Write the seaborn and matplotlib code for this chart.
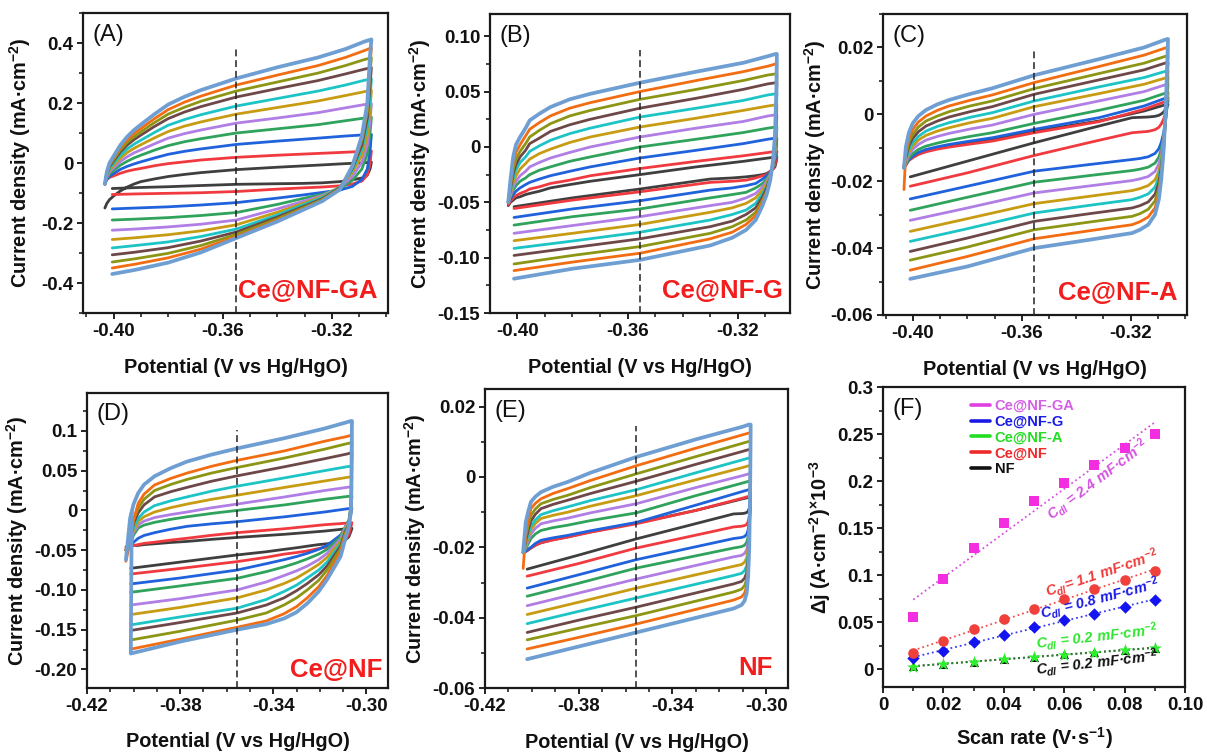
import numpy as np
import pandas as pd
import matplotlib
matplotlib.use("Agg")
import matplotlib.pyplot as plt
import seaborn as sns
from matplotlib.ticker import FixedLocator, FixedFormatter, MultipleLocator
from matplotlib.lines import Line2D

nan = np.nan

# ---------------- data (order of curves: inner -> outer) ----------------
CURVE_COLORS = ['#3f3f3f', '#f03a40', '#1f62dc', '#2fa35c', '#b07ee4', '#c79c12',
                '#1cc4c6', '#6e4848', '#8c9614', '#f26c12', '#6f9fd2']

# Panel A : Ce@NF-GA
A_E_up = [-0.4032, -0.4025, -0.4015, -0.400, -0.3975, -0.395, -0.3925, -0.390, -0.385, -0.380,
          -0.374, -0.368, -0.355, -0.340, -0.325, -0.315, -0.308, -0.3055]
A_up = [
    [-0.150, -0.135, -0.122, -0.110, -0.093, -0.080, -0.070, -0.062, -0.053, -0.045, -0.038, -0.032, -0.022, -0.014, -0.007, -0.002, 0.001, 0.003],
    [-0.065, -0.055, -0.048, -0.043, -0.034, -0.027, -0.022, -0.018, -0.009, -0.002, 0.004, 0.010, 0.019, 0.026, 0.032, 0.036, 0.039, 0.040],
    [-0.070, -0.055, -0.044, -0.035, -0.021, -0.011, -0.003, 0.004, 0.017, 0.029, 0.039, 0.047, 0.062, 0.073, 0.083, 0.090, 0.094, 0.095],
    [-0.070, -0.051, -0.036, -0.025, -0.007, 0.006, 0.017, 0.026, 0.043, 0.058, 0.071, 0.081, 0.100, 0.114, 0.128, 0.141, 0.150, 0.153],
    [-0.070, -0.047, -0.030, -0.016, 0.005, 0.021, 0.034, 0.044, 0.064, 0.083, 0.098, 0.110, 0.133, 0.150, 0.168, 0.184, 0.195, 0.198],
    [-0.070, -0.043, -0.024, -0.008, 0.016, 0.035, 0.049, 0.061, 0.084, 0.105, 0.123, 0.137, 0.163, 0.185, 0.207, 0.225, 0.238, 0.242],
    [-0.070, -0.040, -0.018, -0.001, 0.026, 0.047, 0.063, 0.076, 0.102, 0.126, 0.145, 0.161, 0.190, 0.215, 0.240, 0.260, 0.276, 0.280],
    [-0.070, -0.037, -0.012, 0.007, 0.037, 0.060, 0.078, 0.093, 0.122, 0.148, 0.170, 0.188, 0.220, 0.248, 0.275, 0.297, 0.313, 0.318],
    [-0.070, -0.035, -0.008, 0.012, 0.044, 0.069, 0.088, 0.104, 0.135, 0.163, 0.186, 0.206, 0.240, 0.270, 0.300, 0.325, 0.345, 0.351],
    [-0.070, -0.032, -0.004, 0.017, 0.052, 0.078, 0.099, 0.115, 0.148, 0.178, 0.203, 0.223, 0.260, 0.293, 0.325, 0.352, 0.375, 0.384],
    [-0.070, -0.030, 0.000, 0.023, 0.060, 0.088, 0.110, 0.128, 0.163, 0.195, 0.221, 0.243, 0.282, 0.319, 0.352, 0.380, 0.405, 0.412],
]
A_E_dn = [-0.3055, -0.306, -0.307, -0.309, -0.3125, -0.317, -0.3235, -0.331, -0.340, -0.355, -0.368, -0.380, -0.392, -0.4005]
A_dn = [
    [0.003, -0.020, -0.040, -0.050, -0.056, -0.062, -0.066, -0.068, -0.069, -0.071, -0.075, -0.079, -0.082, -0.085],
    [0.040, 0.000, -0.040, -0.060, -0.070, -0.076, -0.080, -0.083, -0.087, -0.095, -0.099, -0.101, -0.103, -0.105],
    [0.095, 0.040, -0.020, -0.055, -0.078, -0.090, -0.098, -0.107, -0.117, -0.132, -0.140, -0.146, -0.150, -0.153],
    [0.153, 0.100, 0.030, -0.020, -0.058, -0.085, -0.104, -0.119, -0.138, -0.165, -0.175, -0.182, -0.187, -0.190],
    [0.198, 0.140, 0.060, 0.002, -0.045, -0.082, -0.108, -0.129, -0.153, -0.190, -0.204, -0.213, -0.220, -0.224],
    [0.242, 0.180, 0.090, 0.025, -0.032, -0.080, -0.112, -0.136, -0.164, -0.206, -0.226, -0.239, -0.249, -0.255],
    [0.280, 0.220, 0.120, 0.045, -0.024, -0.080, -0.115, -0.141, -0.173, -0.220, -0.245, -0.263, -0.275, -0.283],
    [0.318, 0.260, 0.150, 0.060, -0.018, -0.082, -0.119, -0.147, -0.180, -0.230, -0.260, -0.282, -0.297, -0.306],
    [0.351, 0.300, 0.170, 0.075, -0.013, -0.084, -0.122, -0.151, -0.186, -0.238, -0.275, -0.301, -0.319, -0.330],
    [0.384, 0.330, 0.185, 0.083, -0.011, -0.086, -0.125, -0.155, -0.191, -0.245, -0.287, -0.316, -0.337, -0.350],
    [0.412, 0.360, 0.200, 0.090, -0.010, -0.088, -0.127, -0.158, -0.195, -0.250, -0.298, -0.332, -0.356, -0.370],
]

# Panel B : Ce@NF-G
B_E_up = [-0.4033, -0.4025, -0.4015, -0.4005, -0.399, -0.397, -0.3955, -0.392, -0.388, -0.381,
          -0.3735, -0.3555, -0.335, -0.318, -0.309, -0.3062]
B_up = [
    [-0.053, -0.050, -0.048, -0.046, -0.045, -0.043, -0.042, -0.040, -0.037, -0.034, -0.031, -0.025, -0.018, -0.013, -0.010, -0.009],
    [-0.052, -0.049, -0.046, -0.044, -0.042, -0.040, -0.038, -0.036, -0.033, -0.030, -0.026, -0.0195, -0.013, -0.008, -0.005, -0.004],
    [-0.050, -0.047, -0.043, -0.040, -0.037, -0.034, -0.032, -0.029, -0.026, -0.022, -0.018, -0.010, -0.003, 0.003, 0.007, 0.008],
    [-0.050, -0.045, -0.039, -0.035, -0.031, -0.028, -0.025, -0.021, -0.018, -0.013, -0.009, 0.000, 0.007, 0.013, 0.017, 0.018],
    [-0.050, -0.044, -0.036, -0.031, -0.026, -0.022, -0.018, -0.014, -0.010, -0.005, 0.000, 0.009, 0.017, 0.023, 0.028, 0.029],
    [-0.050, -0.042, -0.032, -0.026, -0.020, -0.015, -0.011, -0.006, -0.002, 0.004, 0.009, 0.018, 0.026, 0.033, 0.037, 0.038],
    [-0.050, -0.040, -0.028, -0.021, -0.014, -0.009, -0.004, 0.001, 0.006, 0.012, 0.017, 0.027, 0.035, 0.042, 0.047, 0.048],
    [-0.050, -0.038, -0.024, -0.016, -0.009, -0.003, 0.003, 0.008, 0.014, 0.020, 0.025, 0.035, 0.044, 0.052, 0.057, 0.058],
    [-0.050, -0.036, -0.020, -0.011, -0.004, 0.003, 0.009, 0.015, 0.021, 0.028, 0.033, 0.043, 0.052, 0.060, 0.065, 0.066],
    [-0.050, -0.033, -0.015, -0.005, 0.002, 0.010, 0.016, 0.022, 0.028, 0.035, 0.040, 0.050, 0.060, 0.068, 0.073, 0.075],
    [-0.050, -0.030, -0.009, 0.002, 0.009, 0.017, 0.024, 0.030, 0.036, 0.043, 0.048, 0.058, 0.068, 0.076, 0.082, 0.084],
]
B_E_dn = [-0.3058, -0.3060, -0.3065, -0.3072, -0.3082, -0.3095, -0.311, -0.3135, -0.317, -0.322,
          -0.330, -0.3555, -0.380, -0.4012]
B_dn = [
    [-0.009, -0.013, -0.018, -0.020, -0.022, -0.024, -0.025, -0.026, -0.027, -0.028, -0.029, -0.038, -0.046, -0.054],
    [-0.004, -0.010, -0.016, -0.020, -0.022, -0.025, -0.026, -0.028, -0.030, -0.031, -0.032, -0.0405, -0.048, -0.0556],
    [0.008, -0.001, -0.012, -0.018, -0.023, -0.026, -0.029, -0.033, -0.035, -0.037, -0.039, -0.0486, -0.056, -0.0637],
    [0.018, 0.005, -0.009, -0.018, -0.024, -0.029, -0.033, -0.037, -0.041, -0.043, -0.046, -0.056, -0.063, -0.0706],
    [0.029, 0.013, -0.006, -0.017, -0.025, -0.031, -0.036, -0.042, -0.046, -0.050, -0.053, -0.063, -0.071, -0.078],
    [0.038, 0.019, -0.004, -0.016, -0.026, -0.033, -0.039, -0.046, -0.051, -0.055, -0.059, -0.070, -0.078, -0.0847],
    [0.048, 0.026, -0.001, -0.015, -0.027, -0.036, -0.042, -0.051, -0.057, -0.061, -0.066, -0.077, -0.085, -0.0916],
    [0.058, 0.032, 0.002, -0.014, -0.028, -0.037, -0.045, -0.055, -0.061, -0.067, -0.072, -0.083, -0.091, -0.098],
    [0.066, 0.038, 0.004, -0.014, -0.029, -0.040, -0.048, -0.059, -0.066, -0.072, -0.078, -0.090, -0.098, -0.1057],
    [0.075, 0.044, 0.007, -0.013, -0.029, -0.041, -0.050, -0.062, -0.070, -0.077, -0.083, -0.096, -0.104, -0.1117],
    [0.084, 0.050, 0.010, -0.012, -0.030, -0.043, -0.053, -0.066, -0.075, -0.082, -0.089, -0.102, -0.110, -0.119],
]

# Panel C : Ce@NF-A
C_E_up = [-0.4033, -0.4026, -0.4015, -0.4001, -0.398, -0.3952, -0.391, -0.3867, -0.379, -0.3708,
          -0.3554, -0.3316, -0.315, -0.3066]
C_up = [
    [-0.0150, -0.0145, -0.0134, -0.0127, -0.0118, -0.0110, -0.0102, -0.0095, -0.0085, -0.0075, -0.0050, -0.0020, 0.0010, 0.0030],
    [-0.0155, -0.0150, -0.0138, -0.0130, -0.0120, -0.0112, -0.0104, -0.0098, -0.0089, -0.0080, -0.0055, -0.0022, 0.0015, 0.0040],
    [-0.0160, -0.0152, -0.0136, -0.0125, -0.0114, -0.0105, -0.0097, -0.0090, -0.0080, -0.0070, -0.0045, -0.0010, 0.0025, 0.0050],
    [-0.0160, -0.0150, -0.0131, -0.0118, -0.0105, -0.0095, -0.0086, -0.0078, -0.0066, -0.0055, -0.0027, 0.0012, 0.0042, 0.0065],
    [-0.0160, -0.0145, -0.0121, -0.0105, -0.0090, -0.0077, -0.0066, -0.0057, -0.0044, -0.0032, 0.0000, 0.0040, 0.0068, 0.0090],
    [-0.0160, -0.0140, -0.0113, -0.0095, -0.0077, -0.0063, -0.0050, -0.0040, -0.0025, -0.0012, 0.0023, 0.0062, 0.0090, 0.0110],
    [-0.0160, -0.0135, -0.0105, -0.0085, -0.0066, -0.0050, -0.0036, -0.0025, -0.0009, 0.0005, 0.0040, 0.0082, 0.0110, 0.0130],
    [-0.0160, -0.0128, -0.0094, -0.0072, -0.0052, -0.0035, -0.0020, -0.0008, 0.0008, 0.0023, 0.0060, 0.0103, 0.0133, 0.0155],
    [-0.0160, -0.0120, -0.0084, -0.0060, -0.0038, -0.0020, -0.0005, 0.0008, 0.0025, 0.0040, 0.0077, 0.0122, 0.0153, 0.0175],
    [-0.0225, -0.0110, -0.0071, -0.0045, -0.0023, -0.0005, 0.0012, 0.0025, 0.0042, 0.0058, 0.0095, 0.0143, 0.0177, 0.0200],
    [-0.0160, -0.0097, -0.0055, -0.0027, -0.0005, 0.0013, 0.0030, 0.0043, 0.0061, 0.0078, 0.0117, 0.0165, 0.0200, 0.0225],
]
C_E_dn = [-0.3062, -0.3068, -0.3072, -0.3078, -0.3087, -0.3096, -0.311, -0.3135, -0.3165, -0.3194,
          -0.335, -0.3554, -0.380, -0.4010]
C_dn = [
    [0.0030, 0.0020, 0.0014, 0.0007, 0.0001, -0.0003, -0.0006, -0.0008, -0.0009, -0.0010, -0.0042, -0.0085, -0.0140, -0.0187],
    [0.0040, 0.0016, 0.0002, -0.0014, -0.0029, -0.0039, -0.0046, -0.0051, -0.0053, -0.0055, -0.0084, -0.0123, -0.0175, -0.0215],
    [0.0050, 0.0004, -0.0023, -0.0055, -0.0084, -0.0103, -0.0117, -0.0127, -0.0132, -0.0135, -0.0150, -0.0170, -0.0215, -0.0253],
    [0.0065, 0.0007, -0.0028, -0.0068, -0.0104, -0.0128, -0.0146, -0.0158, -0.0164, -0.0168, -0.0183, -0.0203, -0.0248, -0.0287],
    [0.0090, 0.0018, -0.0024, -0.0074, -0.0119, -0.0148, -0.0171, -0.0186, -0.0193, -0.0198, -0.0214, -0.0235, -0.0280, -0.0317],
    [0.0110, 0.0026, -0.0024, -0.0082, -0.0135, -0.0170, -0.0196, -0.0213, -0.0222, -0.0228, -0.0245, -0.0267, -0.0312, -0.0350],
    [0.0130, 0.0034, -0.0023, -0.0089, -0.0149, -0.0189, -0.0218, -0.0238, -0.0248, -0.0255, -0.0272, -0.0295, -0.0342, -0.0380],
    [0.0155, 0.0046, -0.0018, -0.0093, -0.0160, -0.0205, -0.0239, -0.0262, -0.0273, -0.0280, -0.0297, -0.0320, -0.0370, -0.0410],
    [0.0175, 0.0055, -0.0016, -0.0098, -0.0173, -0.0222, -0.0259, -0.0284, -0.0297, -0.0305, -0.0322, -0.0345, -0.0397, -0.0436],
    [0.0200, 0.0068, -0.0010, -0.0102, -0.0184, -0.0239, -0.0280, -0.0307, -0.0321, -0.0330, -0.0348, -0.0372, -0.0425, -0.0466],
    [0.0225, 0.0080, -0.0005, -0.0105, -0.0195, -0.0255, -0.0300, -0.0330, -0.0345, -0.0355, -0.0375, -0.0400, -0.0455, -0.0492],
]

# Panel D : Ce@NF
D_E_up = [-0.4033, -0.4015, -0.400, -0.398, -0.3955, -0.391, -0.384, -0.377, -0.3665, -0.3555,
          -0.335, -0.318, -0.3083, -0.3066]
D_up = [
    [-0.046, -0.045, -0.044, -0.044, -0.043, -0.042, -0.0403, -0.039, -0.0364, -0.034, -0.030, -0.026, -0.023, -0.0226],
    [-0.048, -0.046, -0.044, -0.043, -0.0415, -0.040, -0.0373, -0.035, -0.0313, -0.028, -0.023, -0.018, -0.016, -0.0155],
    [-0.050, -0.045, -0.040, -0.035, -0.0315, -0.028, -0.0236, -0.020, -0.0169, -0.0142, -0.008, -0.002, 0.002, 0.0025],
    [-0.050, -0.043, -0.031, -0.022, -0.0185, -0.015, -0.0112, -0.008, -0.0038, 0.000, 0.007, 0.014, 0.0175, 0.018],
    [-0.050, -0.041, -0.028, -0.018, -0.0135, -0.009, -0.0052, -0.002, 0.0033, 0.008, 0.017, 0.025, 0.029, 0.0297],
    [-0.050, -0.040, -0.025, -0.014, -0.008, -0.002, 0.0035, 0.008, 0.0139, 0.0192, 0.029, 0.037, 0.0415, 0.0423],
    [-0.050, -0.039, -0.021, -0.010, -0.002, 0.006, 0.0121, 0.017, 0.0242, 0.0305, 0.041, 0.050, 0.055, 0.0556],
    [-0.050, -0.037, -0.016, -0.003, 0.007, 0.017, 0.0236, 0.029, 0.0367, 0.0435, 0.055, 0.065, 0.071, 0.0724],
    [-0.050, -0.035, -0.012, 0.003, 0.014, 0.025, 0.0327, 0.039, 0.047, 0.054, 0.066, 0.077, 0.084, 0.085],
    [-0.064, -0.040, -0.012, 0.009, 0.0205, 0.032, 0.0403, 0.047, 0.0555, 0.063, 0.075, 0.087, 0.093, 0.0946],
    [-0.062, -0.010, 0.008, 0.022, 0.0325, 0.043, 0.0532, 0.0615, 0.0702, 0.078, 0.091, 0.103, 0.111, 0.1125],
]
D_E_dn = [-0.3062, -0.3066, -0.3075, -0.309, -0.3111, -0.3169, -0.3205, -0.3254, -0.330, -0.3354,
          -0.343, -0.3555, -0.380, -0.4012, -0.4008]
D_dn = [
    [-0.0226, -0.026, -0.033, -0.037, -0.039, -0.042, -0.043, -0.045, -0.047, -0.049, -0.052, -0.056, -0.065, -0.0728, nan],
    [-0.0155, -0.020, -0.030, -0.037, -0.041, -0.046, -0.048, -0.051, -0.053, -0.055, -0.059, -0.0644, -0.073, -0.080, nan],
    [0.0025, -0.004, -0.013, -0.022, -0.031, -0.044, -0.049, -0.054, -0.058, -0.062, -0.067, -0.075, -0.085, -0.0925, nan],
    [0.018, 0.006, -0.012, -0.020, -0.033, -0.049, -0.055, -0.061, -0.066, -0.071, -0.077, -0.0854, -0.095, -0.103, nan],
    [0.0297, 0.008, -0.015, -0.020, -0.036, -0.054, -0.062, -0.070, -0.076, -0.082, -0.090, -0.100, -0.111, -0.119, nan],
    [0.0423, 0.008, -0.016, -0.022, -0.039, -0.059, -0.068, -0.077, -0.085, -0.092, -0.100, -0.110, -0.122, -0.131, nan],
    [0.0556, 0.006, -0.017, -0.024, -0.042, -0.065, -0.075, -0.085, -0.094, -0.102, -0.112, -0.123, -0.134, -0.144, nan],
    [0.0724, 0.004, -0.018, -0.026, -0.045, -0.070, -0.081, -0.092, -0.101, -0.110, -0.119, -0.129, -0.141, -0.151, nan],
    [0.085, 0.002, -0.019, -0.028, -0.048, -0.075, -0.088, -0.100, -0.110, -0.119, -0.129, -0.138, -0.152, -0.163, nan],
    [0.0946, 0.000, -0.020, -0.030, -0.052, -0.082, -0.096, -0.110, -0.121, -0.130, -0.139, -0.147, -0.162, -0.1745, nan],
    [0.1125, 0.000, -0.020, -0.035, -0.058, -0.087, -0.102, -0.117, -0.128, -0.136, -0.143, -0.150, -0.165, -0.180, -0.003],
]

# Panel E : NF
E_E_up = [-0.4037, -0.4026, -0.4015, -0.4004, -0.3985, -0.3961, -0.391, -0.3847, -0.375, -0.3554,
          -0.330, -0.310, -0.3074]
E_up = [
    [-0.0215, -0.0212, -0.0207, -0.0202, -0.0194, -0.0187, -0.0178, -0.0170, -0.0156, -0.0131, -0.0095, -0.0062, -0.0058],
    [-0.0215, -0.0212, -0.0207, -0.0202, -0.0194, -0.0187, -0.0179, -0.0171, -0.0157, -0.0133, -0.0095, -0.0060, -0.0055],
    [-0.0215, -0.0210, -0.0205, -0.0200, -0.0189, -0.0180, -0.0173, -0.0166, -0.0153, -0.0129, -0.0080, -0.0041, -0.0036],
    [-0.0215, -0.0205, -0.0189, -0.0175, -0.0162, -0.0152, -0.0144, -0.0137, -0.0124, -0.0102, -0.0053, -0.0017, -0.0012],
    [-0.0215, -0.0200, -0.0179, -0.0162, -0.0146, -0.0133, -0.0125, -0.0117, -0.0102, -0.0076, -0.0030, 0.0004, 0.0009],
    [-0.0215, -0.0195, -0.0170, -0.0150, -0.0132, -0.0118, -0.0109, -0.0100, -0.0083, -0.0053, -0.0008, 0.0027, 0.0032],
    [-0.0215, -0.0190, -0.0162, -0.0140, -0.0122, -0.0107, -0.0096, -0.0085, -0.0067, -0.0036, 0.0012, 0.0049, 0.0054],
    [-0.0215, -0.0180, -0.0150, -0.0125, -0.0106, -0.0090, -0.0078, -0.0066, -0.0047, -0.0012, 0.0036, 0.0073, 0.0078],
    [-0.0215, -0.0170, -0.0136, -0.0109, -0.0091, -0.0076, -0.0064, -0.0052, -0.0030, 0.0009, 0.0058, 0.0096, 0.0101],
    [-0.0260, -0.0160, -0.0121, -0.0090, -0.0075, -0.0062, -0.0047, -0.0033, -0.0010, 0.0032, 0.0082, 0.0120, 0.0125],
    [-0.0213, -0.0128, -0.0097, -0.0071, -0.0056, -0.0043, -0.0028, -0.0014, 0.0012, 0.0057, 0.0107, 0.0143, 0.0149],
]
E_E_dn = [-0.3066, -0.3068, -0.3072, -0.3077, -0.3083, -0.3092, -0.3105, -0.3139, -0.3554, -0.380, -0.4020]
E_dn = [
    [-0.0058, -0.0072, -0.0089, -0.0097, -0.0101, -0.0103, -0.0104, -0.0105, -0.0176, -0.0222, -0.0262],
    [-0.0055, -0.0081, -0.0113, -0.0127, -0.0135, -0.0138, -0.0140, -0.0142, -0.0202, -0.0246, -0.0282],
    [-0.0036, -0.0078, -0.0128, -0.0151, -0.0163, -0.0169, -0.0172, -0.0175, -0.0235, -0.0278, -0.0316],
    [-0.0012, -0.0069, -0.0138, -0.0170, -0.0186, -0.0194, -0.0198, -0.0202, -0.0259, -0.0302, -0.0339],
    [0.0009, -0.0062, -0.0147, -0.0187, -0.0207, -0.0217, -0.0223, -0.0227, -0.0290, -0.0330, -0.0366],
    [0.0032, -0.0054, -0.0157, -0.0205, -0.0230, -0.0242, -0.0249, -0.0254, -0.0316, -0.0356, -0.0391],
    [0.0054, -0.0046, -0.0167, -0.0223, -0.0252, -0.0266, -0.0274, -0.0280, -0.0344, -0.0382, -0.0417],
    [0.0078, -0.0037, -0.0175, -0.0239, -0.0272, -0.0288, -0.0297, -0.0304, -0.0370, -0.0407, -0.0442],
    [0.0101, -0.0027, -0.0182, -0.0254, -0.0291, -0.0309, -0.0319, -0.0327, -0.0394, -0.0430, -0.0463],
    [0.0125, -0.0018, -0.0190, -0.0269, -0.0310, -0.0330, -0.0341, -0.0350, -0.0418, -0.0456, -0.0489],
    [0.0149, -0.0008, -0.0197, -0.0285, -0.0330, -0.0352, -0.0364, -0.0374, -0.0442, -0.0482, -0.0518],
]

# Panel F : double-layer capacitance
scan_rate = [0.01, 0.02, 0.03, 0.04, 0.05, 0.06, 0.07, 0.08, 0.09]
dj_CeNF_GA = [0.0559, 0.0955, 0.1284, 0.1556, 0.1783, 0.1984, 0.2168, 0.2352, 0.2497]
dj_CeNF_G = [0.0117, 0.0198, 0.0287, 0.0364, 0.0446, 0.0524, 0.0587, 0.0665, 0.0732]
dj_CeNF_A = [0.0028, 0.0057, 0.0081, 0.0106, 0.0127, 0.0149, 0.0177, 0.0202, 0.0226]
dj_CeNF = [0.0177, 0.0304, 0.0424, 0.0534, 0.0644, 0.0750, 0.0852, 0.0948, 0.1047]
dj_NF = [0.0035, 0.0057, 0.0078, 0.0106, 0.0131, 0.0156, 0.0180, 0.0205, 0.0230]
series_names = ['Ce@NF-GA', 'Ce@NF-G', 'Ce@NF-A', 'Ce@NF', 'NF']

# ---------------- style ----------------
sns.set_theme(style="ticks")
plt.rcParams['font.family'] = ['Liberation Sans', 'DejaVu Sans']
plt.rcParams['mathtext.fontset'] = 'custom'
plt.rcParams['mathtext.rm'] = 'Liberation Sans:bold'
plt.rcParams['mathtext.it'] = 'Liberation Sans:bold:italic'
plt.rcParams['mathtext.bf'] = 'Liberation Sans:bold'
plt.rcParams['axes.unicode_minus'] = False

fig = plt.figure(figsize=(12.07, 7.53), dpi=100)

TICK_FS = 13.5
LABEL_FS = 14.3


def style_axes(ax, xlim, ylim, xt, xtl, yt, ytl, xminor, yminor, xlabel, ylabel, ylab_x, xlab_y=-0.15):
    ax.set_xlim(xlim)
    ax.set_ylim(ylim)
    ax.xaxis.set_major_locator(FixedLocator(xt))
    ax.xaxis.set_major_formatter(FixedFormatter(xtl))
    ax.yaxis.set_major_locator(FixedLocator(yt))
    ax.yaxis.set_major_formatter(FixedFormatter(ytl))
    ax.xaxis.set_minor_locator(MultipleLocator(xminor))
    ax.yaxis.set_minor_locator(MultipleLocator(yminor))
    ax.tick_params(which='major', direction='out', length=4.5, width=1.3, pad=2.5,
                   labelsize=TICK_FS, colors='#111111', top=False, right=False)
    ax.tick_params(which='minor', direction='out', length=2.6, width=1.1,
                   colors='#111111', top=False, right=False)
    for s in ax.spines.values():
        s.set_visible(True)
        s.set_linewidth(1.6)
        s.set_color('#1a1a1a')
    for lab in ax.get_xticklabels() + ax.get_yticklabels():
        lab.set_fontweight('bold')
    ax.set_xlabel(xlabel, fontsize=LABEL_FS, fontweight='bold', color='#111111')
    ax.set_ylabel(ylabel, fontsize=LABEL_FS, fontweight='bold', color='#111111')
    ax.xaxis.set_label_coords(0.5, xlab_y)
    ax.yaxis.set_label_coords(ylab_x, 0.5)
    ax.grid(False)


def draw_cv(ax, E_up, I_up, E_dn, I_dn):
    for k, color in enumerate(CURVE_COLORS):
        E = np.array(E_up + E_dn, dtype=float)
        I = np.array(I_up[k] + I_dn[k], dtype=float)
        keep = ~np.isnan(I)
        df = pd.DataFrame({'E': E[keep], 'I': I[keep]})
        lw = 2.7 if k == len(CURVE_COLORS) - 1 else 2.0
        sns.lineplot(data=df, x='E', y='I', sort=False, estimator=None, ax=ax,
                     color=color, linewidth=lw, legend=False,
                     solid_joinstyle='round', solid_capstyle='round')


POT_LABEL = 'Potential (V vs Hg/HgO)'
CUR_LABEL = r'Current density (mA·cm$^{-2}$)'

panels = [
    dict(pos=[0.0688, 0.5843, 0.2527, 0.3984], tag='(A)', name='Ce@NF-GA',
         data=(A_E_up, A_up, A_E_dn, A_dn), xlim=(-0.4112, -0.2994), ylim=(-0.5, 0.5),
         xt=[-0.40, -0.36, -0.32], xtl=['-0.40', '-0.36', '-0.32'],
         yt=[-0.4, -0.2, 0.0, 0.2, 0.4], ytl=['-0.4', '-0.2', '0', '0.2', '0.4'],
         yminor=0.1, dash=(-0.3552, 0.383), ylab_x=-0.165, name_x=0.964, name_y=0.05),
    dict(pos=[0.406, 0.5843, 0.2486, 0.397], tag='(B)', name='Ce@NF-G',
         data=(B_E_up, B_up, B_E_dn, B_dn), xlim=(-0.4099, -0.3010), ylim=(-0.15, 0.12),
         xt=[-0.40, -0.36, -0.32], xtl=['-0.40', '-0.36', '-0.32'],
         yt=[-0.15, -0.10, -0.05, 0.0, 0.05, 0.10],
         ytl=['-0.15', '-0.10', '-0.05', '0', '0.05', '0.10'],
         yminor=0.025, dash=(-0.3555, 0.088), ylab_x=-0.19, name_x=0.977, name_y=0.05),
    dict(pos=[0.7316, 0.5817, 0.2519, 0.3997], tag='(C)', name='Ce@NF-A',
         data=(C_E_up, C_up, C_E_dn, C_dn), xlim=(-0.4110, -0.2992), ylim=(-0.06, 0.03),
         xt=[-0.40, -0.36, -0.32], xtl=['-0.40', '-0.36', '-0.32'],
         yt=[-0.06, -0.04, -0.02, 0.0, 0.02], ytl=['-0.06', '-0.04', '-0.02', '0', '0.02'],
         yminor=0.01, dash=(-0.3554, 0.0197), ylab_x=-0.18, name_x=0.967, name_y=0.05),
    dict(pos=[0.0721, 0.0863, 0.2494, 0.3918], tag='(D)', name='Ce@NF',
         data=(D_E_up, D_up, D_E_dn, D_dn), xlim=(-0.4200, -0.2907), ylim=(-0.2234, 0.1477),
         xt=[-0.42, -0.38, -0.34, -0.30], xtl=['-0.42', '-0.38', '-0.34', '-0.30'],
         yt=[-0.20, -0.15, -0.10, -0.05, 0.0, 0.05, 0.1],
         ytl=['-0.20', '-0.15', '-0.10', '-0.05', '0', '0.05', '0.1'],
         yminor=0.025, dash=(-0.3554, 0.1017), ylab_x=-0.19, name_x=0.98, name_y=0.038),
    dict(pos=[0.4018, 0.0863, 0.251, 0.397], tag='(E)', name='NF',
         data=(E_E_up, E_up, E_E_dn, E_dn), xlim=(-0.4200, -0.2907), ylim=(-0.06, 0.025),
         xt=[-0.42, -0.38, -0.34, -0.30], xtl=['-0.42', '-0.38', '-0.34', '-0.30'],
         yt=[-0.06, -0.04, -0.02, 0.0, 0.02], ytl=['-0.06', '-0.04', '-0.02', '0', '0.02'],
         yminor=0.01, dash=(-0.3554, 0.0144), ylab_x=-0.188, name_x=0.95, name_y=0.043),
]

for p in panels:
    ax = fig.add_axes(p['pos'])
    draw_cv(ax, *p['data'])
    ax.vlines(p['dash'][0], p['ylim'][0], p['dash'][1], colors='#222222',
              linestyles=(0, (4.5, 2.5)), linewidth=1.1, zorder=5)
    style_axes(ax, p['xlim'], p['ylim'], p['xt'], p['xtl'], p['yt'], p['ytl'],
               0.01, p['yminor'], POT_LABEL, CUR_LABEL, p['ylab_x'])
    ax.text(0.03, 0.965, p['tag'], transform=ax.transAxes, ha='left', va='top',
            fontsize=17, fontweight='normal', color='#111111')
    ax.text(p['name_x'], p['name_y'], p['name'], transform=ax.transAxes, ha='right',
            va='baseline', fontsize=18.5, fontweight='bold', color='#f21d1d')

# ---------------- panel F ----------------
axF = fig.add_axes([0.7316, 0.0876, 0.2502, 0.3984])
F_series = [
    (dj_NF, '#111111', '^', 42, 'NF'),
    (dj_CeNF_A, '#2df02d', '*', 95, 'Ce@NF-A'),
    (dj_CeNF_G, '#1414f0', 'D', 40, 'Ce@NF-G'),
    (dj_CeNF, '#f0403c', 'o', 58, 'Ce@NF'),
    (dj_CeNF_GA, '#f22ee0', 's', 48, 'Ce@NF-GA'),
]
line_colors = {'NF': '#222222', 'Ce@NF-A': '#2a8a2a', 'Ce@NF-G': '#3a3af0',
               'Ce@NF': '#f05050', 'Ce@NF-GA': '#d84ee0'}
for y, c, m, s, nm in F_series:
    sns.regplot(x=scan_rate, y=y, ax=axF, ci=None, truncate=True, marker=m, color=c,
                scatter_kws={'s': s, 'linewidths': 0, 'alpha': 1, 'zorder': 3},
                line_kws={'linestyle': ':', 'linewidth': 1.3, 'color': line_colors[nm], 'zorder': 2})

style_axes(axF, (0.0, 0.10), (-0.019, 0.30),
           [0.0, 0.02, 0.04, 0.06, 0.08, 0.10], ['0', '0.02', '0.04', '0.06', '0.08', '0.10'],
           [0.0, 0.05, 0.10, 0.15, 0.20, 0.25, 0.30], ['0', '0.05', '0.1', '0.15', '0.2', '0.25', '0.3'],
           0.01, 0.025, r'Scan rate (V·s$^{-1}$)',
           r'Δj (A·cm$^{-2}$)$^{\times}$10$^{-3}$', -0.166, xlab_y=-0.128)
axF.text(0.03, 0.965, '(F)', transform=axF.transAxes, ha='left', va='top',
         fontsize=17, fontweight='normal', color='#111111')

leg_colors = ['#e040e0', '#1a1ae6', '#22dd22', '#ee2a2a', '#111111']
leg_text_colors = ['#d45fe6', '#1a1ae6', '#22dd22', '#ee2a2a', '#111111']
handles = [Line2D([], [], color=c, lw=2.6) for c in leg_colors]
leg = axF.legend(handles, series_names, loc='upper left', bbox_to_anchor=(0.29, 0.96),
                 frameon=False, handlelength=1.3, handletextpad=0.35, labelspacing=0.12,
                 borderaxespad=0.0, borderpad=0.0, prop={'weight': 'bold', 'size': 10.5})
for t, c in zip(leg.get_texts(), leg_text_colors):
    t.set_color(c)

cdl_specs = [
    (r'$C_{dl}$ = 2.4 mF·cm$^{\mathit{-2}}$', 0.0710, 0.2009, 37.0, '#d452e0'),
    (r'$C_{dl}$= 1.1 mF·cm$^{\mathit{-2}}$', 0.0724, 0.1019, 18.5, '#f03a3a'),
    (r'$C_{dl}$ = 0.8 mF·cm$^{\mathit{-2}}$', 0.0718, 0.0753, 14.5, '#1a1ae6'),
    (r'$C_{dl}$ = 0.2 mF·cm$^{\mathit{-2}}$', 0.0707, 0.0347, 6.5, '#2fe62f'),
    (r'$C_{dl}$ = 0.2 mF·cm$^{\mathit{-2}}$', 0.0707, 0.0071, 6.5, '#111111'),
]
for txt, x, y, rot, c in cdl_specs:
    axF.text(x, y, txt, ha='center', va='center', rotation=rot, rotation_mode='anchor',
             fontsize=10.5, fontweight='bold', fontstyle='italic', color=c)

fig.savefig('out.png', dpi=100)
